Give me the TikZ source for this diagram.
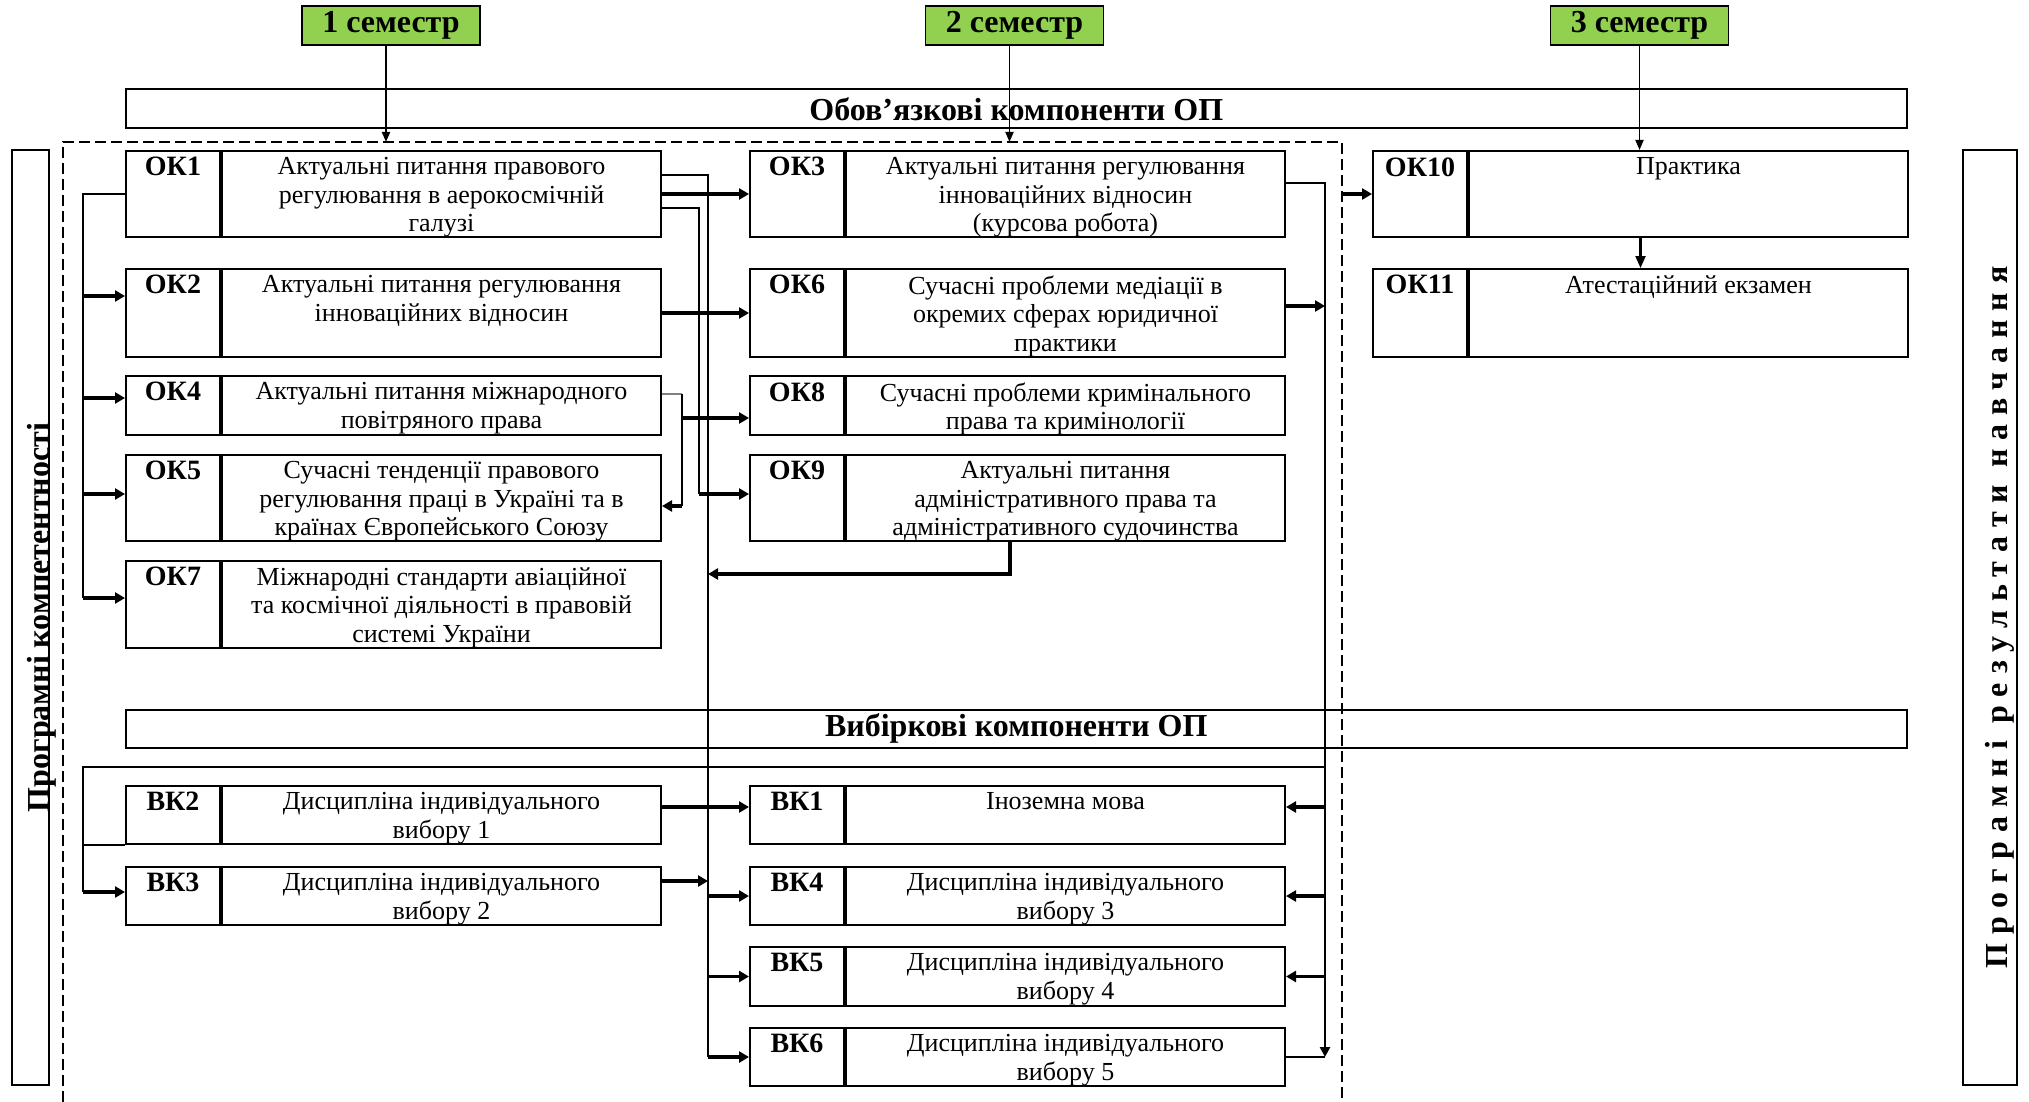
\documentclass[tikz,border=0pt]{standalone}
\usepackage{fontspec}
\setmainfont{Liberation Serif}
\usetikzlibrary{arrows.meta,positioning,calc}
\definecolor{semgreen}{RGB}{146,208,80}

\begin{document}
\begin{tikzpicture}[x=0.5pt, y=-0.5pt,
    semester/.style={draw=black, line width=0.8pt, fill=semgreen,
        minimum width=89pt, minimum height=19.5pt, inner sep=0pt,
        font=\bfseries\fontsize{16}{18}\selectfont},
    band/.style={draw=black, line width=0.8pt, minimum width=890.5pt,
        minimum height=19.5pt, anchor=north west, inner sep=0pt,
        font=\bfseries\fontsize{16}{18}\selectfont},
    sidebox/.style={draw=black, line width=1pt, rotate=90, inner sep=0pt,
        minimum width=467.5pt},
    sidetext/.style={rotate=90, inner sep=0pt,
        font=\bfseries\fontsize{16}{18}\selectfont},
    codecell/.style={draw=black, line width=1pt, minimum width=47pt,
        anchor=north west, inner sep=0pt},
    desccell/.style={draw=black, line width=1pt, minimum width=219.5pt,
        inner sep=0pt},
    codetext/.style={anchor=north, yshift=-3.5pt, inner sep=0pt,
        font=\bfseries\fontsize{14}{16}\selectfont},
    desctext/.style={anchor=north, yshift=-3.5pt, inner sep=0pt, align=center,
        font=\fontsize{13}{14.3}\selectfont},
    link/.style={line width=0.8pt},
    arr/.style={line width=1.6pt, -{Triangle[length=5pt,width=5.5pt]}},
    arrthin/.style={line width=0.9pt, -{Triangle[length=5pt,width=4pt]}},
    trunkarr/.style={line width=1.3pt, -{Triangle[length=5pt,width=5pt]}}
]
    \useasboundingbox (0,0) rectangle (2029,1102);

    \node[semester] (sem1) at (391,25.5) {1 семестр};
    \node[semester] (sem2) at (1014.5,25.5) {2 семестр};
    \node[semester] (sem3) at (1639.5,25.5) {3 семестр};

    \node[band] (oblig) at (125,88.5) {Обов’язкові компоненти ОП};
    \node[band, minimum height=19pt] (vybir) at (125,709) {Вибіркові компоненти ОП};

    \node[sidebox, minimum height=18.5pt] (komp) at (30.5,617.5) {};
    \node[sidetext] (kompt) at ([xshift=5.5pt]komp.center) {Програмні компетентності};
    \node[sidebox, minimum height=27pt] (rezult) at (1990,617.5) {};
    \node[sidetext] (rezultt) at ([xshift=5pt]rezult.center)
        {\addfontfeature{LetterSpace=28}Програмні результати навчання};

    \coordinate (dtl) at (63,142);
    \coordinate (dtr) at (1342,142);
    \draw[line width=0.75pt, dash pattern=on 5.5pt off 2.5pt] (63,1102) -- (dtl) -- (dtr) -- (1342,1102);

    \node[codecell, minimum height=43pt, label={[codetext]north:ОК1}] (ok1) at (125,150) {};
    \node[desccell, minimum height=43pt, right=0pt of ok1, label={[desctext]north:{Актуальні питання правового\\регулювання в аерокосмічній\\галузі}}] (ok1d) {};
    \node[codecell, minimum height=44pt, label={[codetext]north:ОК2}] (ok2) at (125,268) {};
    \node[desccell, minimum height=44pt, right=0pt of ok2, label={[desctext]north:{Актуальні питання регулювання\\інноваційних відносин}}] (ok2d) {};
    \node[codecell, minimum height=29.5pt, label={[codetext]north:ОК4}] (ok4) at (125,375) {};
    \node[desccell, minimum height=29.5pt, right=0pt of ok4, label={[desctext]north:{Актуальні питання міжнародного\\повітряного права}}] (ok4d) {};
    \node[codecell, minimum height=43pt, label={[codetext]north:ОК5}] (ok5) at (125,454) {};
    \node[desccell, minimum height=43pt, right=0pt of ok5, label={[desctext]north:{Сучасні тенденції правового\\регулювання праці в Україні та в\\країнах Європейського Союзу}}] (ok5d) {};
    \node[codecell, minimum height=43.5pt, label={[codetext]north:ОК7}] (ok7) at (125,560) {};
    \node[desccell, minimum height=43.5pt, right=0pt of ok7, label={[desctext]north:{Міжнародні стандарти авіаційної\\та космічної діяльності в правовій\\системі України}}] (ok7d) {};

    \node[codecell, minimum height=43pt, label={[codetext]north:ОК3}] (ok3) at (749,150) {};
    \node[desccell, minimum height=43pt, right=0pt of ok3, label={[desctext]north:{Актуальні питання регулювання\\інноваційних відносин\\(курсова робота)}}] (ok3d) {};
    \node[codecell, minimum height=44pt, label={[codetext]north:ОК6}] (ok6) at (749,268) {};
    \node[desccell, minimum height=44pt, right=0pt of ok6, label={[desctext]north:{Сучасні проблеми медіації в\\окремих сферах юридичної\\практики}}] (ok6d) {};
    \node[codecell, minimum height=29.5pt, label={[codetext]north:ОК8}] (ok8) at (749,375) {};
    \node[desccell, minimum height=29.5pt, right=0pt of ok8, label={[desctext]north:{Сучасні проблеми кримінального\\права та кримінології}}] (ok8d) {};
    \node[codecell, minimum height=43pt, label={[codetext]north:ОК9}] (ok9) at (749,454) {};
    \node[desccell, minimum height=43pt, right=0pt of ok9, label={[desctext]north:{Актуальні питання\\адміністративного права та\\адміністративного судочинства}}] (ok9d) {};

    \node[codecell, minimum height=43pt, label={[codetext]north:ОК10}] (ok10) at (1372,150) {};
    \node[desccell, minimum height=43pt, right=0pt of ok10, label={[desctext]north:Практика}] (ok10d) {};
    \node[codecell, minimum height=44pt, label={[codetext]north:ОК11}] (ok11) at (1372,268) {};
    \node[desccell, minimum height=44pt, right=0pt of ok11, label={[desctext]north:Атестаційний екзамен}] (ok11d) {};

    \node[codecell, minimum height=29pt, label={[codetext]north:ВК2}] (vk2) at (125,785) {};
    \node[desccell, minimum height=29pt, right=0pt of vk2, label={[desctext]north:{Дисципліна індивідуального\\вибору 1}}] (vk2d) {};
    \node[codecell, minimum height=29pt, label={[codetext]north:ВК3}] (vk3) at (125,866) {};
    \node[desccell, minimum height=29pt, right=0pt of vk3, label={[desctext]north:{Дисципліна індивідуального\\вибору 2}}] (vk3d) {};

    \node[codecell, minimum height=29pt, label={[codetext]north:ВК1}] (vk1) at (749,785) {};
    \node[desccell, minimum height=29pt, right=0pt of vk1, label={[desctext]north:Іноземна мова}] (vk1d) {};
    \node[codecell, minimum height=29pt, label={[codetext]north:ВК4}] (vk4) at (749,866) {};
    \node[desccell, minimum height=29pt, right=0pt of vk4, label={[desctext]north:{Дисципліна індивідуального\\вибору 3}}] (vk4d) {};
    \node[codecell, minimum height=29.5pt, label={[codetext]north:ВК5}] (vk5) at (749,946) {};
    \node[desccell, minimum height=29.5pt, right=0pt of vk5, label={[desctext]north:{Дисципліна індивідуального\\вибору 4}}] (vk5d) {};
    \node[codecell, minimum height=29pt, label={[codetext]north:ВК6}] (vk6) at (749,1027) {};
    \node[desccell, minimum height=29pt, right=0pt of vk6, label={[desctext]north:{Дисципліна індивідуального\\вибору 5}}] (vk6d) {};

    \coordinate (s1) at ([xshift=-2.5pt]sem1.south);
    \coordinate (s2) at ([xshift=-2.5pt]sem2.south);
    \draw[arrthin] (s1) -- (s1 |- dtl);
    \draw[arrthin] (s2) -- (s2 |- dtl);
    \draw[arrthin] (sem3) -- (sem3 |- ok10d.north);

    \coordinate (tl) at (83,150);
    \coordinate (tn) at (699,150);
    \coordinate (tm) at (708,150);
    \coordinate (tk) at (682,150);
    \coordinate (tr) at (1325,150);

    \coordinate (e2) at ([yshift=8.5pt]ok2.west);
    \coordinate (e4) at ([yshift=3.75pt]ok4.west);
    \coordinate (e5) at ([yshift=2pt]ok5.west);
    \coordinate (e7) at ([yshift=3.25pt]ok7.west);
    \draw[link] (ok1.west) -| (tl |- e7);
    \draw[arr] (tl |- e2) -- (e2);
    \draw[arr] (tl |- e4) -- (e4);
    \draw[arr] (tl |- e5) -- (e5);
    \draw[arr] (tl |- e7) -- (e7);

    \coordinate (c1a) at ([yshift=9.5pt]ok1d.east);
    \coordinate (c1b) at ([yshift=-7pt]ok1d.east);
    \coordinate (e9) at ([yshift=2pt]ok9.west);
    \draw[link] (c1a) -| (tm |- vk6.west);
    \draw[arr] (ok1d.east) -- (ok3.west);
    \draw[link] (c1b) -| (tn |- e9);
    \draw[arr] (tn |- e9) -- (e9);
    \draw[arr] (ok2d.east) -- (ok6.west);

    \coordinate (c4) at ([yshift=5.75pt]ok4d.east);
    \coordinate (c5) at ([yshift=-4pt]ok5d.east);
    \coordinate (e8) at ([yshift=-6.25pt]ok8.west);
    \draw[link, gray] (c4) -- (tk |- c4);
    \draw[link] (tk |- c4) -- (tk |- c5);
    \draw[arr] (tk |- c5) -- (c5);
    \draw[arr] (tk |- e8) -- (e8);

    \coordinate (b9) at ($(ok9.south west)!0.486!(ok9d.south east)$);
    \coordinate (j9) at (708,574);
    \draw[arr] (b9) |- (j9);

    \coordinate (f2) at ([yshift=4pt]vk2d.east);
    \coordinate (g1) at ([yshift=4pt]vk1.west);
    \draw[arr] (f2) -- (g1);
    \coordinate (f3) at ([yshift=7.5pt]vk3d.east);
    \draw[arr] (f3) -- (tm |- f3);
    \draw[arr] (tm |- vk4.west) -- (vk4.west);
    \draw[arr] (tm |- vk5.west) -- (vk5.west);
    \draw[arr] (tm |- vk6.west) -- (vk6.west);

    \coordinate (c3) at ([yshift=5.5pt]ok3d.east);
    \coordinate (c6) at ([yshift=3.5pt]ok6d.east);
    \draw[trunkarr] (c3) -| (tr |- vk6d.east);
    \draw[arr] (c6) -- (tr |- c6);
    \draw[link] (vk6d.east) -- (tr |- vk6d.east);
    \coordinate (h1) at ([yshift=4pt]vk1d.east);
    \draw[arr] (tr |- h1) -- (h1);
    \draw[arr] (tr |- vk4d.east) -- (vk4d.east);
    \draw[arr] (tr |- vk5d.east) -- (vk5d.east);

    \coordinate (tv) at (83,767);
    \coordinate (e3v) at ([yshift=2pt]vk3.west);
    \draw[link] (tr |- tv) -- (tv) -- (tv |- e3v);
    \draw[arr] (tv |- e3v) -- (e3v);
    \draw[link] (tv |- vk2.south west) -- (vk2.south west);

    \draw[arr] (dtr |- ok10.west) -- (ok10.west);
    \draw[line width=1.1pt, -{Triangle[length=6pt,width=5pt]}] ($(ok10.south west)!0.5!(ok10d.south east)$) -- ($(ok11.north west)!0.5!(ok11d.north east)$);
\end{tikzpicture}
\end{document}
